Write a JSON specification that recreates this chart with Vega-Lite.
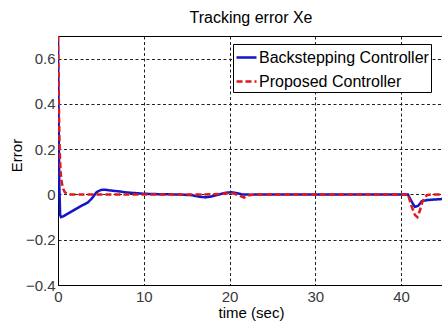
{
  "$schema": "https://vega.github.io/schema/vega-lite/v6.json",
  "width": 386,
  "height": 249,
  "autosize": {"type": "none"},
  "padding": {"left": 58, "top": 36, "right": 10, "bottom": 40},
  "background": "white",
  "title": {"text": "Tracking error Xe", "fontSize": 16, "fontWeight": "normal", "font": "Liberation Sans", "color": "black", "offset": 10},
  "config": {
    "view": {"stroke": "black", "strokeWidth": 1},
    "axis": {
      "labelFont": "Liberation Sans",
      "labelFontSize": 15,
      "labelColor": "#3a3a3a",
      "titleFont": "Liberation Sans",
      "titleFontSize": 15,
      "titleFontWeight": "normal",
      "titleColor": "black",
      "domainColor": "black",
      "grid": true,
      "gridColor": "#222222",
      "gridDash": [3, 2.5],
      "gridOpacity": 1,
      "gridWidth": 1,
      "ticks": false,
      "labelOverlap": false,
      "labelBound": false,
      "labelFlush": false
    }
  },
  "data": {
    "values": [
      {"t": 0, "series": "Backstepping Controller", "v": 0.7},
      {"t": 0.08, "series": "Backstepping Controller", "v": 0.3},
      {"t": 0.15, "series": "Backstepping Controller", "v": 0.05},
      {"t": 0.25, "series": "Backstepping Controller", "v": -0.09},
      {"t": 0.35, "series": "Backstepping Controller", "v": -0.1},
      {"t": 0.6, "series": "Backstepping Controller", "v": -0.097},
      {"t": 1.0, "series": "Backstepping Controller", "v": -0.088},
      {"t": 1.5, "series": "Backstepping Controller", "v": -0.077},
      {"t": 2.0, "series": "Backstepping Controller", "v": -0.066},
      {"t": 2.5, "series": "Backstepping Controller", "v": -0.055},
      {"t": 3.0, "series": "Backstepping Controller", "v": -0.045},
      {"t": 3.5, "series": "Backstepping Controller", "v": -0.035},
      {"t": 4.0, "series": "Backstepping Controller", "v": -0.015},
      {"t": 4.5, "series": "Backstepping Controller", "v": 0.01},
      {"t": 5.0, "series": "Backstepping Controller", "v": 0.02},
      {"t": 5.5, "series": "Backstepping Controller", "v": 0.021},
      {"t": 6.0, "series": "Backstepping Controller", "v": 0.018},
      {"t": 7.0, "series": "Backstepping Controller", "v": 0.014},
      {"t": 8.0, "series": "Backstepping Controller", "v": 0.009},
      {"t": 9.0, "series": "Backstepping Controller", "v": 0.006},
      {"t": 10, "series": "Backstepping Controller", "v": 0.003},
      {"t": 12, "series": "Backstepping Controller", "v": 0.001},
      {"t": 14, "series": "Backstepping Controller", "v": 0},
      {"t": 15.5, "series": "Backstepping Controller", "v": -0.003},
      {"t": 16.5, "series": "Backstepping Controller", "v": -0.01},
      {"t": 17.2, "series": "Backstepping Controller", "v": -0.013},
      {"t": 18, "series": "Backstepping Controller", "v": -0.008},
      {"t": 18.8, "series": "Backstepping Controller", "v": 0},
      {"t": 19.5, "series": "Backstepping Controller", "v": 0.007},
      {"t": 20.2, "series": "Backstepping Controller", "v": 0.01},
      {"t": 20.8, "series": "Backstepping Controller", "v": 0.006},
      {"t": 21.5, "series": "Backstepping Controller", "v": 0},
      {"t": 22.5, "series": "Backstepping Controller", "v": -0.001},
      {"t": 24, "series": "Backstepping Controller", "v": 0},
      {"t": 30, "series": "Backstepping Controller", "v": 0},
      {"t": 40, "series": "Backstepping Controller", "v": 0},
      {"t": 40.8, "series": "Backstepping Controller", "v": 0},
      {"t": 41.2, "series": "Backstepping Controller", "v": -0.03},
      {"t": 41.6, "series": "Backstepping Controller", "v": -0.055},
      {"t": 42.0, "series": "Backstepping Controller", "v": -0.05},
      {"t": 42.4, "series": "Backstepping Controller", "v": -0.03},
      {"t": 43, "series": "Backstepping Controller", "v": -0.025},
      {"t": 44, "series": "Backstepping Controller", "v": -0.022},
      {"t": 45, "series": "Backstepping Controller", "v": -0.02},
      {"t": 0, "series": "Proposed Controller", "v": 0.7},
      {"t": 0.05, "series": "Proposed Controller", "v": 0.55},
      {"t": 0.1, "series": "Proposed Controller", "v": 0.4},
      {"t": 0.15, "series": "Proposed Controller", "v": 0.28},
      {"t": 0.2, "series": "Proposed Controller", "v": 0.19},
      {"t": 0.3, "series": "Proposed Controller", "v": 0.1},
      {"t": 0.45, "series": "Proposed Controller", "v": 0.05},
      {"t": 0.6, "series": "Proposed Controller", "v": 0.025},
      {"t": 0.8, "series": "Proposed Controller", "v": 0.01},
      {"t": 1.0, "series": "Proposed Controller", "v": 0.004},
      {"t": 1.5, "series": "Proposed Controller", "v": 0},
      {"t": 17, "series": "Proposed Controller", "v": 0},
      {"t": 19, "series": "Proposed Controller", "v": 0.002},
      {"t": 20, "series": "Proposed Controller", "v": 0.006},
      {"t": 20.6, "series": "Proposed Controller", "v": 0.003},
      {"t": 21.2, "series": "Proposed Controller", "v": -0.006},
      {"t": 21.7, "series": "Proposed Controller", "v": -0.014},
      {"t": 22.3, "series": "Proposed Controller", "v": -0.003},
      {"t": 23, "series": "Proposed Controller", "v": 0},
      {"t": 40.8, "series": "Proposed Controller", "v": 0},
      {"t": 41.2, "series": "Proposed Controller", "v": -0.05},
      {"t": 41.6, "series": "Proposed Controller", "v": -0.09},
      {"t": 41.9, "series": "Proposed Controller", "v": -0.1},
      {"t": 42.2, "series": "Proposed Controller", "v": -0.07},
      {"t": 42.5, "series": "Proposed Controller", "v": -0.03},
      {"t": 43, "series": "Proposed Controller", "v": -0.003},
      {"t": 43.5, "series": "Proposed Controller", "v": 0},
      {"t": 45, "series": "Proposed Controller", "v": 0}
    ]
  },
  "mark": {"type": "line", "strokeWidth": 2.5, "clip": true},
  "encoding": {
    "x": {
      "field": "t", "type": "quantitative",
      "scale": {"domain": [0, 45], "nice": false, "zero": false},
      "axis": {"title": "time (sec)", "values": [0, 10, 20, 30, 40], "labelPadding": 4, "titlePadding": 1}
    },
    "y": {
      "field": "v", "type": "quantitative",
      "scale": {"domain": [-0.4, 0.7], "nice": false},
      "axis": {"title": "Error", "values": [-0.4, -0.2, 0, 0.2, 0.4, 0.6], "format": "~g", "labelPadding": 3,
               "titleFontSize": 15, "titleX": -42, "titleY": 119, "titleAlign": "center", "titleBaseline": "middle", "titleAngle": -90}
    },
    "color": {
      "field": "series", "type": "nominal",
      "scale": {"domain": ["Backstepping Controller", "Proposed Controller"], "range": ["#1414c8", "#e01818"]},
      "legend": {
        "title": null, "orient": "none", "legendX": 175, "legendY": 8,
        "symbolType": "stroke", "symbolSize": 400, "symbolStrokeWidth": 2.5,
        "labelFont": "Liberation Sans", "labelFontSize": 16, "labelColor": "black", "labelLimit": 400,
        "labelOffset": 1, "padding": 2, "rowPadding": 4,
        "fillColor": "white", "strokeColor": "black", "cornerRadius": 0
      }
    },
    "strokeDash": {
      "field": "series", "type": "nominal",
      "scale": {"domain": ["Backstepping Controller", "Proposed Controller"], "range": [[1, 0], [6, 3]]},
      "legend": {
        "title": null, "orient": "none", "legendX": 175, "legendY": 8,
        "symbolType": "stroke", "symbolSize": 400, "symbolStrokeWidth": 2.5,
        "labelFont": "Liberation Sans", "labelFontSize": 16, "labelColor": "black", "labelLimit": 400,
        "labelOffset": 1, "padding": 2, "rowPadding": 4,
        "fillColor": "white", "strokeColor": "black", "cornerRadius": 0
      }
    }
  }
}
